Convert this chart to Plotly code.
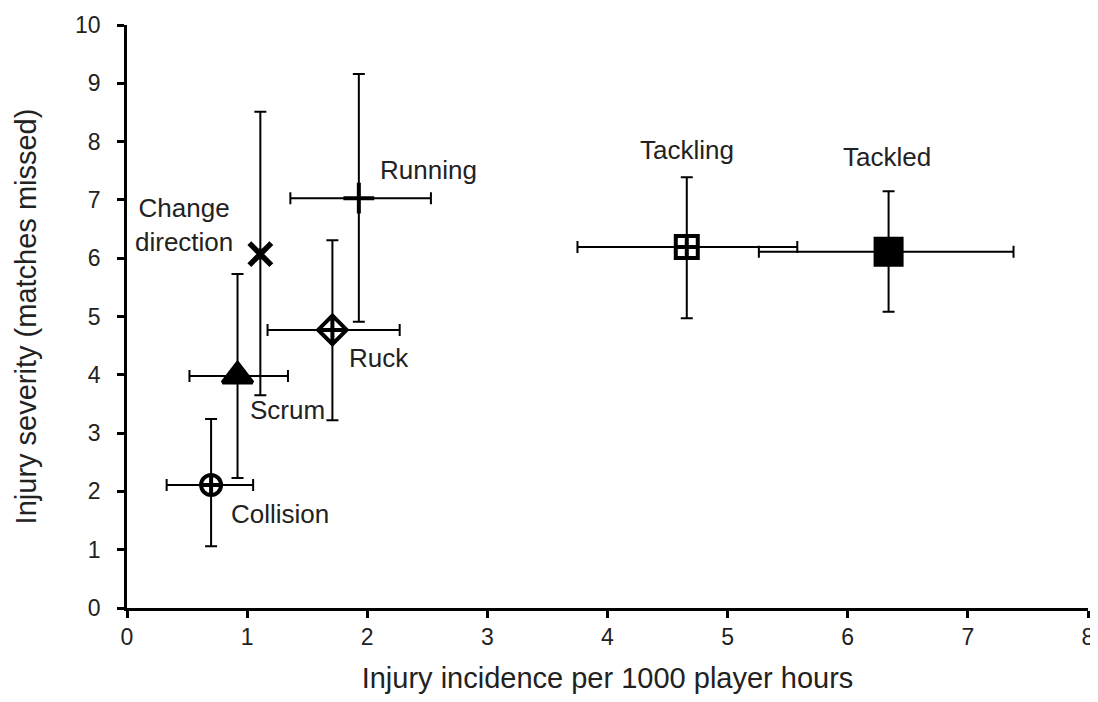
import plotly.graph_objects as go

names = ["Collision", "Scrum", "Change direction", "Ruck", "Running", "Tackling", "Tackled"]
incidence = [0.70, 0.92, 1.11, 1.71, 1.93, 4.66, 6.34]
inc_low = [0.33, 0.52, 1.11, 1.17, 1.36, 3.75, 5.26]
inc_high = [1.05, 1.34, 1.11, 2.27, 2.53, 5.58, 7.38]
severity = [2.11, 3.98, 6.07, 4.77, 7.03, 6.19, 6.11]
sev_low = [1.06, 2.23, 3.65, 3.22, 4.91, 4.97, 5.08]
sev_high = [3.24, 5.73, 8.51, 6.31, 9.16, 7.39, 7.15]

symbols = ["circle-cross-open", "triangle-up", "x-thin-open", "diamond-cross-open",
           "cross-thin-open", "square-cross-open", "square"]
sizes = [20, 26, 22, 22, 22, 22, 26]
line_w = [4, 4, 5.5, 4, 4, 4, 4]

FONT = "Liberation Sans, Arial"

fig = go.Figure()
fig.add_trace(go.Scatter(
    x=incidence, y=severity, mode="markers",
    marker=dict(symbol=symbols, size=sizes, color="black", opacity=1,
                line=dict(color="black", width=line_w)),
    error_x=dict(type="data", symmetric=False,
                 array=[h - v for h, v in zip(inc_high, incidence)],
                 arrayminus=[v - l for v, l in zip(incidence, inc_low)],
                 color="black", thickness=2, width=6),
    error_y=dict(type="data", symmetric=False,
                 array=[h - v for h, v in zip(sev_high, severity)],
                 arrayminus=[v - l for v, l in zip(severity, sev_low)],
                 color="black", thickness=2, width=6),
    showlegend=False, hoverinfo="skip",
))

label_text = ["Collision", "Scrum", "Change<br>direction", "Ruck", "Running", "Tackling", "Tackled"]
label_anchor = ["left", "left", "right", "left", "left", "center", "center"]
label_dx = [18, 10, -25, 15, 19, 0, -2]
label_dy = [-29, -34, 29, -28, 28, 97, 95]
for t, x, y, a, dx, dy in zip(label_text, incidence, severity, label_anchor, label_dx, label_dy):
    fig.add_annotation(x=x, y=y, text=t, showarrow=False, xanchor=a, yanchor="middle",
                       xshift=dx, yshift=dy, align="center",
                       font=dict(family=FONT, size=26, color="#222"))

axis_common = dict(showline=True, linecolor="black", linewidth=2.5, ticks="outside",
                   tickwidth=2.5, ticklen=7, tickcolor="black", showgrid=False, zeroline=False,
                   automargin=False,
                   tickfont=dict(family=FONT, size=23, color="#222"),
                   title_font=dict(family=FONT, size=29, color="#222"))

fig.update_xaxes(range=[0, 8], dtick=1, title_text="Injury incidence per 1000 player hours",
                 ticklabelstandoff=0, title_standoff=26, **axis_common)
fig.update_yaxes(range=[0, 10], dtick=1, title_text="Injury severity (matches missed)",
                 ticklabelstandoff=12, title_standoff=30, **axis_common)

# the page body adds an 8px offset, so the figure is sized to fit the 1098x702 window
fig.update_layout(width=1088, height=686, plot_bgcolor="white", paper_bgcolor="white",
                  margin=dict(l=119, r=8, t=17, b=86))

fig.write_html("out.html")
